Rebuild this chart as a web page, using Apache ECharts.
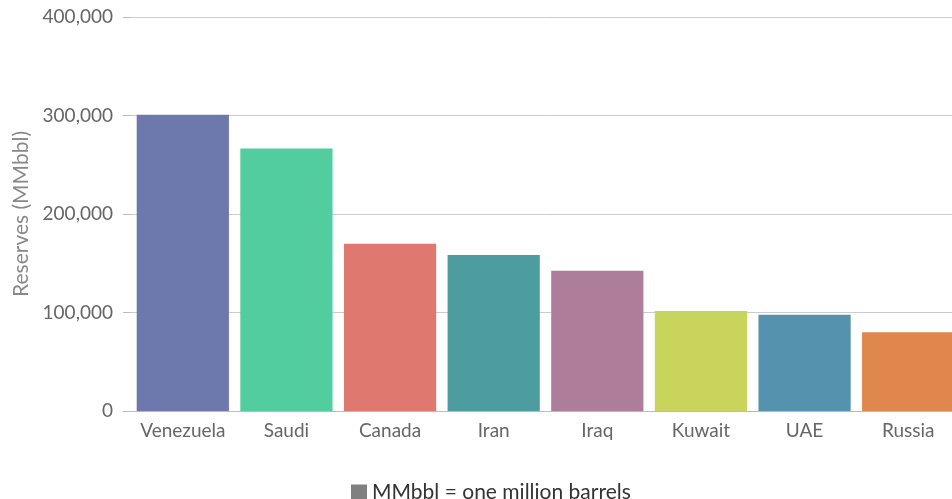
<!DOCTYPE html>
<html>
<head>
<meta charset="utf-8">
<script src="https://cdn.jsdelivr.net/npm/echarts@6/dist/echarts.min.js"></script>
<style>
html,body{margin:0;padding:0;background:#fff;overflow:hidden;width:952px;height:499px;}
#chart{width:980px;height:499px;}
</style>
</head>
<body>
<div id="chart"></div>
<script>
const countries = ["Venezuela","Saudi","Canada","Iran","Iraq","Kuwait","UAE","Russia"];
const reserves = [300878, 266578, 169709, 158400, 142503, 101500, 97800, 80000];
const barColors = ["#6D78AD","#51CDA0","#DF7970","#4C9CA0","#AE7D99","#C9D45C","#5592AD","#DF874D"];
const yTicks = [0, 100000, 200000, 300000, 400000];
const seriesName = "MMbbl = one million barrels";
const yAxisTitle = "Reserves (MMbbl)";

const chart = echarts.init(document.getElementById('chart'), null, {renderer:'canvas'});
const font = "Lato, 'Open Sans', sans-serif";
chart.setOption({
  animation:false,
  textStyle:{fontFamily:font},
  grid:{left:131, right:20, top:17, bottom:88, containLabel:false},
  legend:{
    data:[seriesName], left:346, top:477, itemWidth:16, itemHeight:16, itemGap:6,
    icon:'rect',
    textStyle:{fontSize:21, color:'#333', fontFamily:font}
  },
  xAxis:{
    type:'category', data:countries,
    axisLine:{lineStyle:{color:'#BBBBBB', width:1}},
    axisTick:{alignWithLabel:true, length:7, lineStyle:{color:'#BBBBBB'}},
    axisLabel:{interval:0, fontSize:19, color:'#666', margin:10, fontFamily:font}
  },
  yAxis:{
    type:'value', min:0, max:400000, interval:100000,
    name:yAxisTitle, nameLocation:'middle', nameRotate:90, nameGap:98,
    nameTextStyle:{fontSize:21, color:'#888', fontFamily:font},
    axisLine:{show:false},
    axisTick:{show:true, length:8, lineStyle:{color:'#BBBBBB'}},
    splitLine:{lineStyle:{color:'#CCCCCC', width:1}},
    axisLabel:{fontSize:19, color:'#666', margin:18, fontFamily:font,
      formatter:v=>yTicks.includes(v)? v.toLocaleString('en-US') : ''}
  },
  series:[{
    name:seriesName, type:'bar', barCategoryGap:'11%',
    itemStyle:{color:'#808080'},
    data:reserves.map((v,i)=>({value:v, itemStyle:{color:barColors[i]}}))
  }]
});
</script>
</body>
</html>
